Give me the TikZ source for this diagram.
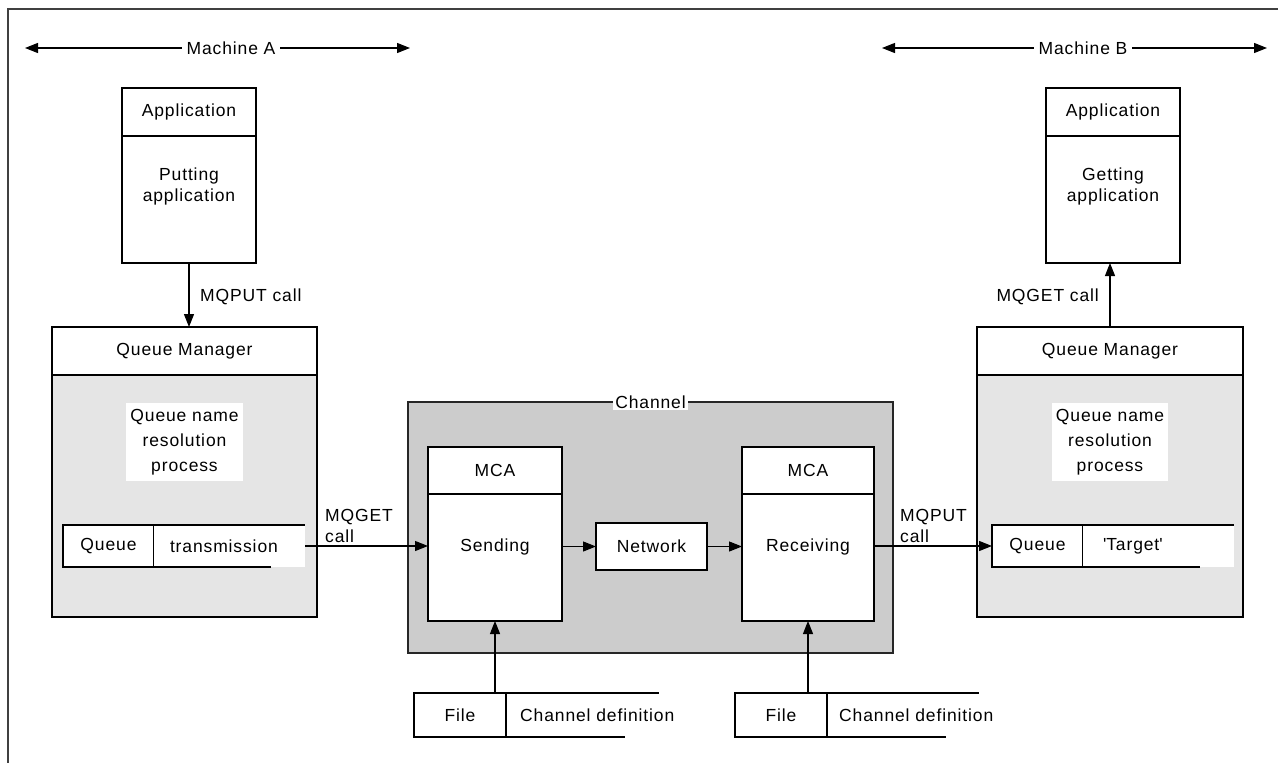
\documentclass[tikz,border=0pt]{standalone}
\usepackage{fontspec}
\setmainfont[LetterSpace=5]{Liberation Sans}
\usepackage{tikz}
\usetikzlibrary{arrows.meta, positioning, calc}
\newcommand\diafont{\fontsize{17.5}{21}\selectfont}
\tikzset{
    frameline/.style={line width=1.3pt, color=black!75},
    basebox/.style={rectangle, draw=black, line width=1.1pt, outer sep=0pt, inner sep=0pt, text centered},
    headbox/.style={basebox, fill=white, minimum height=48pt},
    bodybox/.style={basebox, fill=white},
    qmbody/.style={basebox, fill=black!10},
    chanbox/.style={basebox, draw=black!85, fill=black!20},
    cellbox/.style={basebox, fill=white, minimum height=42pt, minimum width=91pt},
    celltext/.style={rectangle, fill=white, inner sep=0pt, inner xsep=16pt, minimum height=42pt, text width=119pt, align=left, outer sep=0pt},
    whitelabel/.style={fill=white, inner xsep=4pt, inner ysep=6pt, align=center},
    calllabel/.style={inner sep=2pt, align=left},
    arrow/.style={line width=1.1pt, -{Triangle[length=13pt,width=10pt]}},
    twoarrow/.style={line width=1.1pt, {Triangle[length=13pt,width=10pt]}-{Triangle[length=13pt,width=10pt]}},
    line/.style={line width=1.1pt}
}

\begin{document}
\begin{tikzpicture}[x=1pt, y=-1pt, font=\diafont]
    \useasboundingbox (0,0) rectangle (1278,763);
    \draw[frameline] (1278,9) -- (8,9) -- (8,763);

    % machine ranges
    \coordinate (mAleft) at (25,48);
    \coordinate (mAright) at (410,48);
    \coordinate (mBleft) at (882,48);
    \coordinate (mBright) at (1267,48);
    \draw[twoarrow] (mAleft) -- (mAright);
    \draw[twoarrow] (mBleft) -- (mBright);
    \node[fill=white, inner sep=5pt] (mAlabel) at (231,48) {Machine A};
    \node[fill=white, inner sep=5pt] (mBlabel) at (1083,48) {Machine B};

    % machine A
    \node[headbox, anchor=north west, minimum width=134pt] (appAhead) at (122,88) {Application};
    \node[bodybox, below=0pt of appAhead, minimum width=134pt, minimum height=127pt] (appAbody) {};
    \node[below=28pt of appAhead, align=center] (appAtext) {Putting\\application};
    \node[headbox, anchor=north west, minimum width=265pt] (qmAhead) at (52,327) {Queue Manager};
    \node[qmbody, below=0pt of qmAhead, minimum width=265pt, minimum height=242pt] (qmAbody) {};
    \node[whitelabel, below=28pt of qmAhead] (resA) {Queue name\\[4pt]resolution\\[4pt]process};
    \node[cellbox, anchor=north west] (qA) at (63,525) {Queue};
    \node[celltext, anchor=west] (txA) at (qA.east) {transmission};
    \draw[line] (qA.north east) -- (txA.north east);
    \draw[line] (qA.south east) -- ++(117,0);

    % channel
    \node[chanbox, anchor=north west, minimum width=485pt, minimum height=251pt] (chan) at (408,402) {};
    \node[fill=white, inner sep=2pt] (chanlabel) at (chan.north) {Channel};
    \node[headbox, anchor=north west, minimum width=134pt, minimum height=47pt] (sendhead) at (428,447) {MCA};
    \node[bodybox, below=0pt of sendhead, minimum width=134pt, minimum height=127pt] (sendbody) {};
    \node (sendtext) at ($(sendbody.center)+(0,-11)$) {Sending};
    \node[bodybox, anchor=north west, minimum width=111pt, minimum height=47pt] (net) at (596,523) {Network};
    \node[headbox, anchor=north west, minimum width=132pt, minimum height=47pt] (recvhead) at (742,447) {MCA};
    \node[bodybox, below=0pt of recvhead, minimum width=132pt, minimum height=127pt] (recvbody) {};
    \node (recvtext) at ($(recvbody.center)+(0,-11)$) {Receiving};

    % machine B
    \node[headbox, anchor=north west, minimum width=134pt] (appBhead) at (1046,88) {Application};
    \node[bodybox, below=0pt of appBhead, minimum width=134pt, minimum height=127pt] (appBbody) {};
    \node[below=28pt of appBhead, align=center] (appBtext) {Getting\\application};
    \node[headbox, anchor=north west, minimum width=266pt] (qmBhead) at (977,327) {Queue Manager};
    \node[qmbody, below=0pt of qmBhead, minimum width=266pt, minimum height=242pt] (qmBbody) {};
    \node[whitelabel, below=28pt of qmBhead] (resB) {Queue name\\[4pt]resolution\\[4pt]process};
    \node[cellbox, anchor=north west] (qB) at (992,525) {Queue};
    \node[celltext, inner xsep=20pt, text width=111pt, anchor=west] (tgtB) at (qB.east) {\textquotesingle Target\textquotesingle};
    \draw[line] (qB.north east) -- (tgtB.north east);
    \draw[line] (qB.south east) -- ++(117,0);

    % channel definitions
    \node[cellbox, anchor=north west, minimum width=92pt, minimum height=44pt] (fileA) at (414,693) {File};
    \node[anchor=west, inner xsep=14pt] (defA) at (fileA.east) {Channel definition};
    \draw[line] (fileA.north east) -- ++(153,0);
    \draw[line] (fileA.south east) -- ++(119,0);
    \node[cellbox, anchor=north west, minimum width=92pt, minimum height=44pt] (fileB) at (735,693) {File};
    \node[anchor=west, inner xsep=12pt] (defB) at (fileB.east) {Channel definition};
    \draw[line] (fileB.north east) -- ++(152,0);
    \draw[line] (fileB.south east) -- ++(119,0);

    % flows
    \draw[arrow] (appAbody.south) -- (appAbody.south |- qmAhead.north);
    \node[calllabel, anchor=west] (putA) at (198,297) {MQPUT call};
    \draw[arrow] (txA.east) -- (txA.east -| sendbody.west);
    \node[calllabel, anchor=south west] (getlbl) at ($(txA.east)+(18,-1)$) {MQGET\\call};
    \draw[arrow] (net.west -| sendbody.east) -- (net.west);
    \draw[arrow] (net.east) -- (net.east -| recvbody.west);
    \draw[arrow] (qB.west -| recvbody.east) -- (qB.west);
    \node[calllabel, anchor=south west] (putlbl) at ($(qB.west -| recvbody.east)+(24,-1)$) {MQPUT\\call};
    \draw[arrow] (qmBhead.north) -- (qmBhead.north |- appBbody.south);
    \node[calllabel, anchor=east] (getB) at (1101,297) {MQGET call};
    \draw[arrow] (sendbody.south |- fileA.north) -- (sendbody.south);
    \draw[arrow] (recvbody.south |- fileB.north) -- (recvbody.south);
\end{tikzpicture}
\end{document}
